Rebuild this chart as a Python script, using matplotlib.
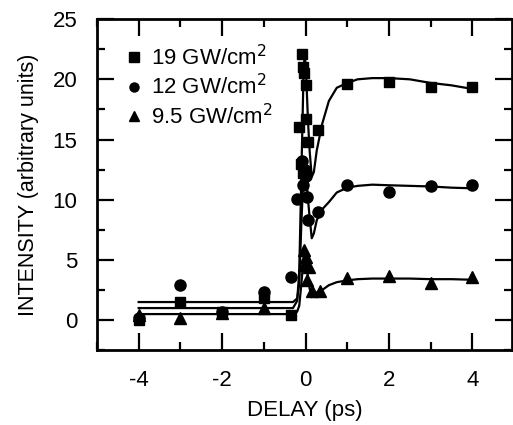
import matplotlib
matplotlib.use("Agg")
import matplotlib.pyplot as plt
from matplotlib.ticker import MultipleLocator

plt.rcParams['font.family'] = ['Liberation Sans', 'DejaVu Sans']
plt.rcParams['axes.unicode_minus'] = False

# measured points (delay in ps, intensity)
sq_t = [-4, -3, -2, -1, -0.35, -0.15, -0.1, -0.08, -0.06, -0.05, -0.04, 0.0, 0.02, 0.05, 0.3, 1, 2, 3, 4]
sq_y = [0.0, 1.5, 0.7, 1.8, 0.4, 16.0, 13.0, 22.1, 21.0, 12.2, 20.5, 19.5, 16.7, 14.8, 15.8, 19.6, 19.8, 19.4, 19.4]

ci_t = [-4, -3, -2, -1, -0.35, -0.2, -0.08, -0.05, -0.02, 0.0, 0.03, 0.06, 0.3, 1, 2, 3, 4]
ci_y = [0.2, 2.9, 0.7, 2.3, 3.6, 10.1, 13.2, 11.2, 12.5, 12.0, 10.2, 8.3, 9.0, 11.2, 10.6, 11.1, 11.2]

tr_t = [-4, -3, -2, -1, -0.04, 0.0, -0.04, 0.08, 0.03, 0.15, 0.35, 1, 2, 3, 4]
tr_y = [0.4, 0.15, 0.6, 1.0, 5.8, 5.2, 4.6, 4.4, 3.3, 2.4, 2.4, 3.5, 3.7, 3.1, 3.6]

# fitted curves
fit_t = [-4, -0.3, -0.2, -0.15, -0.1, -0.05, -0.02, 0.02, 0.06, 0.1, 0.15, 0.2, 0.27,
         0.4, 0.56, 0.75, 1.0, 1.25, 1.6, 2.0, 2.5, 3.0, 3.5, 4.0]
fit_sq = [1.0, 1.0, 1.6, 4, 12, 20, 22.3, 20, 16.5, 14, 11.9, 12.3, 14.1,
          16.3, 18.2, 19.3, 19.7, 20.0, 20.1, 20.1, 20.0, 19.7, 19.5, 19.2]
fit_ci = [1.5, 1.5, 1.8, 3, 8, 12, 13.2, 12, 10, 8.5, 6.8, 7.2, 8.3,
          9.2, 9.8, 10.6, 11.0, 11.15, 11.25, 11.2, 11.15, 11.1, 11.0, 10.95]
fit_tr = [0.5, 0.5, 0.7, 1.2, 3, 5, 5.8, 4.8, 3.5, 2.6, 1.9, 2.0, 2.3,
          2.5, 2.9, 3.15, 3.3, 3.4, 3.45, 3.45, 3.45, 3.4, 3.4, 3.35]

labels = ['19 GW/cm$^2$', '12 GW/cm$^2$', '9.5 GW/cm$^2$']

fig = plt.figure(figsize=(5.13, 4.25), dpi=100)
ax = fig.add_axes([0.189, 0.176, 0.809, 0.779])

for fy in (fit_sq, fit_ci, fit_tr):
    ax.plot(fit_t, fy, color='black', linewidth=1.6, zorder=2)

ax.plot(tr_t, tr_y, '^', color='black', markersize=8, linestyle='none', zorder=3)
ax.plot(ci_t, ci_y, 'o', color='black', markersize=8, linestyle='none', zorder=3)
ax.plot(sq_t, sq_y, 's', color='black', markersize=7.5, linestyle='none', zorder=4)

# legend handles
h_sq, = ax.plot([], [], 's', color='black', markersize=6.5)
h_ci, = ax.plot([], [], 'o', color='black', markersize=6.5)
h_tr, = ax.plot([], [], '^', color='black', markersize=6.5)
ax.legend([h_sq, h_ci, h_tr], labels, loc='upper left', bbox_to_anchor=(0.04, 0.962),
          frameon=False, fontsize=16, handlelength=0.6, handletextpad=0.5,
          labelspacing=0.19, borderaxespad=0.2)

ax.set_xlim(-5, 4.95)
ax.set_ylim(-2.5, 25)
ax.xaxis.set_major_locator(MultipleLocator(2))
ax.xaxis.set_minor_locator(MultipleLocator(1))
ax.yaxis.set_major_locator(MultipleLocator(5))
ax.yaxis.set_minor_locator(MultipleLocator(2.5))
ax.tick_params(which='both', direction='in', top=True, right=True, width=1.6)
ax.tick_params(which='major', length=12, labelsize=16, pad=14)
ax.tick_params(which='minor', length=6)
ax.tick_params(axis='y', which='major', pad=14)
for s in ax.spines.values():
    s.set_linewidth(2)

ax.set_xlabel('DELAY (ps)', fontsize=16, labelpad=7)
ax.set_ylabel('INTENSITY (arbitrary units)', fontsize=15.5, labelpad=10)

fig.savefig('out.png', dpi=100)
